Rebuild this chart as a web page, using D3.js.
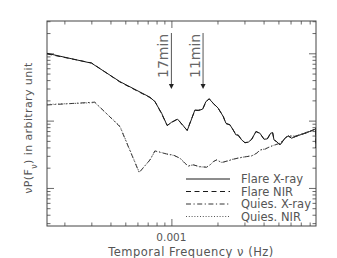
<!DOCTYPE html>
<html>
<head>
<meta charset="utf-8">
<script src="https://cdn.jsdelivr.net/npm/d3@7"></script>
<style>
  body { margin: 0; background: #fff; }
  svg text { font-family: "DejaVu Sans", sans-serif; fill: #444; }
</style>
</head>
<body>
<script>
const w = 337;
const h = 258;
const plotLeft = 47, plotRight = 316, plotTop = 21, plotBottom = 226;

// frequencies (Hz) and powers (arbitrary units)
const flareFreq = [1.54e-4, 3.01e-4, 4.61e-4, 7.24e-4, 7.80e-4, 8.63e-4, 9.39e-4, 1.003e-3, 1.098e-3, 1.184e-3,
  1.268e-3, 1.335e-3, 1.424e-3, 1.497e-3, 1.599e-3, 1.680e-3, 1.767e-3, 1.876e-3, 2.023e-3, 2.181e-3,
  2.271e-3, 2.412e-3, 2.535e-3, 2.640e-3, 2.733e-3, 2.876e-3, 3.023e-3, 3.177e-3, 3.344e-3, 3.567e-3,
  3.788e-3, 4.023e-3, 4.228e-3, 4.450e-3, 4.586e-3, 4.677e-3, 4.871e-3, 5.119e-3, 5.252e-3, 5.518e-3,
  5.799e-3, 6.103e-3, 6.413e-3, 6.918e-3, 7.651e-3, 8.249e-3, 8.669e-3, 8.78e-3, 8.8e-3];
const flareXray = [100, 71.3, 38.0, 22.3, 19.2, 12.9, 8.43, 9.47, 10.5, 8.63,
  7.10, 9.66, 14.4, 14.1, 14.8, 19.2, 21.0, 18.1, 15.3, 11.5,
  9.15, 8.63, 7.27, 6.13, 6.13, 5.17, 4.71, 4.78, 5.29, 6.87,
  6.50, 5.29, 5.35, 6.50, 6.63, 5.17, 4.88, 4.35, 4.71, 5.48,
  5.93, 5.48, 5.78, 6.13, 6.63, 7.10, 7.45, 7.71, 3.93];
const flareNir = [98, 72, 37.5, 22.0, 19.4, 12.6, 8.5, 9.4, 10.6, 8.5,
  7.2, 9.8, 14.2, 14.3, 14.6, 19.0, 21.2, 18.0, 15.1, 11.6,
  9.0, 8.7, 7.2, 6.2, 6.0, 5.2, 4.68, 4.82, 5.25, 6.9,
  6.45, 5.33, 5.3, 6.55, 6.6, 5.2, 4.85, 4.38, 4.68, 5.5,
  5.9, 5.5, 5.75, 6.15, 6.6, 7.12, 7.42, 7.7, 3.95];

const quiesFreq = [1.54e-4, 3.16e-4, 4.61e-4, 6.16e-4, 7.24e-4, 7.80e-4, 8.41e-4, 9.30e-4, 1.027e-3, 1.137e-3,
  1.225e-3, 1.288e-3, 1.388e-3, 1.536e-3, 1.698e-3, 1.785e-3, 1.876e-3, 1.974e-3, 2.128e-3, 2.350e-3,
  2.535e-3, 2.803e-3, 3.100e-3, 3.344e-3, 3.605e-3, 3.788e-3, 4.084e-3, 4.404e-3, 4.749e-3, 5.119e-3,
  5.380e-3, 5.661e-3, 5.951e-3, 6.413e-3, 6.918e-3, 7.651e-3, 8.249e-3, 8.669e-3, 8.8e-3];
const quiesXray = [17.1, 18.8, 8.14, 1.69, 2.61, 3.55, 3.39, 3.20, 3.09, 2.76,
  2.33, 2.12, 2.20, 2.07, 2.03, 2.20, 2.46, 2.61, 2.38, 2.54,
  2.67, 2.82, 2.92, 2.99, 3.28, 3.67, 3.76, 4.11, 4.35, 4.62,
  5.17, 5.78, 5.93, 5.85, 6.2, 6.7, 7.05, 7.4, 7.7];
const quiesNir = [17.4, 18.5, 8.3, 1.72, 2.58, 3.5, 3.42, 3.18, 3.05, 2.78,
  2.35, 2.1, 2.22, 2.05, 2.05, 2.18, 2.44, 2.6, 2.4, 2.52,
  2.69, 2.8, 2.94, 3.0, 3.25, 3.65, 3.8, 4.08, 4.38, 4.6,
  5.1, 5.75, 5.9, 5.88, 6.15, 6.72, 7.0, 7.42, 7.65];

const legendNames = ["Flare X-ray", "Flare NIR", "Quies. X-ray", "Quies. NIR"];
const arrowFreq = [1.0e-3, 1.61e-3];
const arrowLabels = ["17min", "11min"];

const xMajor = [1e-3];
const xMinor = [2e-4, 3e-4, 4e-4, 5e-4, 6e-4, 7e-4, 8e-4, 9e-4, 2e-3, 3e-3, 4e-3, 5e-3, 6e-3, 7e-3, 8e-3];
const yMajor = [1, 10, 100];
const yMinor = [0.3, 0.4, 0.5, 0.6, 0.7, 0.8, 0.9, 2, 3, 4, 5, 6, 7, 8, 9, 20, 30, 40, 50, 60, 70, 80, 90, 200, 300];

let svg = d3.select("body").append("svg")
  .attr("width", w)
  .attr("height", h);

let x = d3.scaleLog().domain([1.54e-4, 8.8e-3]).range([plotLeft, plotRight]);
let y = d3.scaleLog().domain([0.272, 302]).range([plotBottom, plotTop]);

svg.append("defs").append("clipPath").attr("id", "plotclip")
  .append("rect")
  .attr("x", plotLeft).attr("y", plotTop)
  .attr("width", plotRight - plotLeft).attr("height", plotBottom - plotTop);

// ticks on all four sides, pointing inward
function ticks(axisFn, pos, vals, size) {
  let g = svg.append("g")
    .attr("transform", pos)
    .call(axisFn.tickValues(vals).tickSizeInner(size).tickSizeOuter(0).tickFormat(""));
  g.select(".domain").remove();
  g.selectAll("line").attr("stroke", "#444").attr("stroke-width", 0.8);
}
ticks(d3.axisBottom(x), `translate(0,${plotBottom})`, xMajor, -7);
ticks(d3.axisBottom(x), `translate(0,${plotBottom})`, xMinor, -3.5);
ticks(d3.axisTop(x), `translate(0,${plotTop})`, xMajor, -7);
ticks(d3.axisTop(x), `translate(0,${plotTop})`, xMinor, -3.5);
ticks(d3.axisLeft(y), `translate(${plotLeft},0)`, yMajor, -7);
ticks(d3.axisLeft(y), `translate(${plotLeft},0)`, yMinor, -3.5);
ticks(d3.axisRight(y), `translate(${plotRight},0)`, yMajor, -7);
ticks(d3.axisRight(y), `translate(${plotRight},0)`, yMinor, -3.5);

svg.append("rect")
  .attr("x", plotLeft).attr("y", plotTop)
  .attr("width", plotRight - plotLeft).attr("height", plotBottom - plotTop)
  .attr("fill", "none").attr("stroke", "#444").attr("stroke-width", 1);

const dashes = [null, "5,3.5", "5,2.5,1.2,2.5", "1,1.8"];
const series = [
  { f: flareFreq, v: flareXray, c: "#1a1a1a" },
  { f: flareFreq, v: flareNir, c: "#1a1a1a" },
  { f: quiesFreq, v: quiesXray, c: "#333" },
  { f: quiesFreq, v: quiesNir, c: "#555" }
];

let line = d3.line().x(d => x(d[0])).y(d => y(d[1]));

svg.append("g").attr("clip-path", "url(#plotclip)")
  .selectAll("path")
  .data(series)
  .enter()
  .append("path")
  .attr("d", s => line(s.f.map((f, i) => [f, s.v[i]])))
  .attr("fill", "none")
  .attr("stroke", s => s.c)
  .attr("stroke-width", 1)
  .attr("stroke-dasharray", (s, i) => dashes[i]);

// period arrows
arrowFreq.forEach((f, i) => {
  let ax = x(f);
  svg.append("line")
    .attr("x1", ax).attr("x2", ax)
    .attr("y1", 33).attr("y2", 85)
    .attr("stroke", "#555").attr("stroke-width", 1);
  svg.append("path")
    .attr("d", `M${ax - 2.5},84 L${ax + 2.5},84 L${ax},89 Z`)
    .attr("fill", "#222");
  svg.append("text")
    .attr("transform", `translate(${ax - 3},78) rotate(-90)`)
    .style("font-size", "14px")
    .style("fill", "#666")
    .text(arrowLabels[i]);
});

// legend
let leg = svg.append("g");
legendNames.forEach((name, i) => {
  let ly = 179 + i * 12.5;
  leg.append("line")
    .attr("x1", 186).attr("x2", 230)
    .attr("y1", ly).attr("y2", ly)
    .attr("stroke", series[i].c)
    .attr("stroke-width", 1)
    .attr("stroke-dasharray", dashes[i]);
  leg.append("text")
    .attr("x", 241).attr("y", ly + 4)
    .style("font-size", "11.5px")
    .style("fill", "#555")
    .text(name);
});

// axis labels
svg.append("text")
  .attr("x", x(1e-3)).attr("y", 241)
  .style("text-anchor", "middle")
  .style("font-size", "10.5px")
  .style("fill", "#555")
  .text("0.001");

svg.append("text")
  .attr("x", 191).attr("y", 256)
  .style("text-anchor", "middle")
  .style("font-size", "11.5px")
  .style("letter-spacing", "0.5px")
  .style("fill", "#555")
  .text("Temporal Frequency \u03bd (Hz)");

let yl = svg.append("text")
  .attr("transform", "translate(32,128) rotate(-90)")
  .style("text-anchor", "middle")
  .style("font-size", "11px")
  .style("letter-spacing", "0.4px")
  .style("fill", "#555");
yl.append("tspan").text("\u03bdP(F");
yl.append("tspan").attr("baseline-shift", "sub").style("font-size", "8px").text("\u03bd");
yl.append("tspan").text(") in arbitrary unit");
</script>
</body>
</html>
